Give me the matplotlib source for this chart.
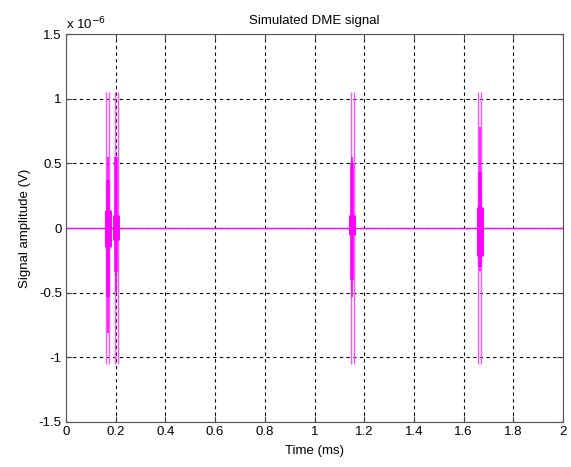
import matplotlib
matplotlib.use('AGG')
import matplotlib.pyplot as plt

plt.rcParams['font.family'] = ['Liberation Sans', 'DejaVu Sans']
plt.rcParams['font.size'] = 9.5

# values (time in ms, amplitude in units of 1e-6 V)
time_span = [0, 2]
pulse_centers = [0.167, 0.203, 1.152, 1.664]
edge_left = [0.161, 0.197, 1.145, 1.656]
edge_right = [0.173, 0.209, 1.159, 1.671]
peak = 1.05
thin_top = [0.55, 0.55, 0.55, 0.78]
thin_bot = [-0.81, -0.50, -0.53, -0.33]
thick_top = [0.37, 0.55, 0.50, 0.43]
thick_bot = [-0.53, -0.34, -0.40, -0.30]
blob_top = [0.14, 0.10, 0.10, 0.16]
blob_bot = [-0.15, -0.09, -0.05, -0.22]

scale = 1e-6
mag = '#ff00ff'

fig = plt.figure(figsize=(5.71, 4.67), dpi=100)
ax = fig.add_axes([0.1156, 0.0964, 0.8704, 0.8306])

ax.plot(time_span, [0, 0], color=mag, lw=1)
for i in range(len(pulse_centers)):
    ax.vlines([edge_left[i], edge_right[i]], -peak * scale, peak * scale,
              color='#ff55ff', lw=1.0)
    ax.vlines(pulse_centers[i], thin_bot[i] * scale, thin_top[i] * scale, color=mag, lw=1.2)
    ax.vlines(pulse_centers[i], thick_bot[i] * scale, thick_top[i] * scale, color=mag, lw=2.6)
    ax.vlines(pulse_centers[i], blob_bot[i] * scale, blob_top[i] * scale, color=mag, lw=5)

ax.set_xlim(0, 2)
ax.set_ylim(-1.5e-6, 1.5e-6)
ax.set_xticks([0, 0.2, 0.4, 0.6, 0.8, 1, 1.2, 1.4, 1.6, 1.8, 2])
ax.set_xticklabels(['0', '0.2', '0.4', '0.6', '0.8', '1', '1.2', '1.4', '1.6', '1.8', '2'])
yt = [-1.5, -1, -0.5, 0, 0.5, 1, 1.5]
ax.set_yticks([v * scale for v in yt])
ax.set_yticklabels(['-1.5', '-1', '-0.5', '0', '0.5', '1', '1.5'])
ax.grid(True, color='black', linestyle=(0, (3, 3)), lw=0.8)
ax.tick_params(direction='in', length=4, color='#444444', pad=3,
               top=True, right=True)
for s in ax.spines.values():
    s.set_color('#555555')

ax.set_title('Simulated DME signal', fontsize=9.5, pad=7)
ax.set_xlabel('Time (ms)', labelpad=5)
ax.set_ylabel('Signal amplitude (V)', labelpad=6)
ax.text(0.0, 1.012, r'x 10$^{-6}$', transform=ax.transAxes, fontsize=9.5)

plt.savefig('out.png', dpi=100)
